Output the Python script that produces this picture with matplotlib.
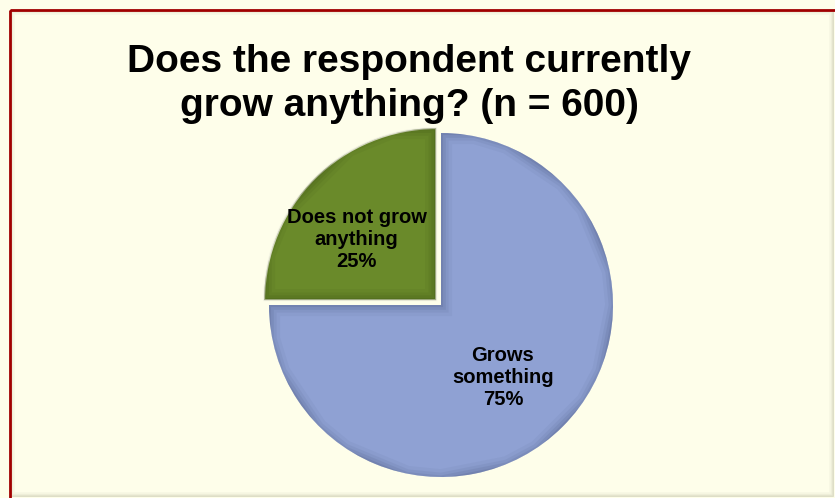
import matplotlib
matplotlib.use("Agg")
import matplotlib.pyplot as plt
from matplotlib.patches import Rectangle

labels = ["Grows\nsomething", "Does not grow\nanything"]
shares = [75, 25]
colors = ["#8FA1D3", "#6A8A2A"]
edge_dark = ["#4E5C85", "#3B4F12"]
title = "Does the respondent currently\ngrow anything? (n = 600)"

plt.rcParams['font.family'] = ['Liberation Sans', 'DejaVu Sans']

W, H = 835, 498
fig = plt.figure(figsize=(W / 100, H / 100), dpi=100)
fig.patch.set_facecolor("#FEFEEA")

# frame with a soft bevel inside the red border
bg = fig.add_axes([0, 0, 1, 1])
bg.set_xlim(0, W)
bg.set_ylim(H, 0)
bg.axis("off")
for i, c in enumerate(["#D8D8C0", "#E6E6CF", "#F0F0DB", "#F7F7E3"]):
    bg.add_patch(Rectangle((11 + i, 11 + i), W - 13 - 2 * i, H - 13 - 2 * i,
                           fill=False, ec=c, lw=1.2))
bg.add_patch(Rectangle((10, 10), W + 20, H + 20, fill=False, ec="#A00000", lw=2))

bg.text(409, 84, title, ha="center", va="center", fontsize=28,
        fontweight="bold", linespacing=1.3)

# pie, centred at (441, 305) px with radius ~172 px
R, cx, cy = 172, 441, 305
half = R * 1.1
ax = fig.add_axes([(cx - half) / W, (H - cy - half) / H, 2 * half / W, 2 * half / H])

wedges, _ = ax.pie(shares, colors=colors, startangle=90, counterclock=False,
                   explode=[0, 0.04], radius=1.0,
                   wedgeprops=dict(lw=0))
ax.set_xlim(-1.1, 1.1)
ax.set_ylim(-1.1, 1.1)
ax.set_aspect("equal")
ax.axis("off")

# light seam around the small slice, darker rim inside each slice
wedges[1].set_edgecolor("#F4F4E4")
wedges[1].set_linewidth(1.5)
for w, dk in zip(wedges, edge_dark):
    for lw, a in [(16, 0.07), (11, 0.1), (7, 0.14), (3, 0.2)]:
        rim = plt.Polygon(w.get_path().vertices, closed=True, fill=False,
                          ec=dk, lw=lw, alpha=a, transform=w.get_transform())
        ax.add_patch(rim)
        rim.set_clip_path(w)

ax.text(0.36, -0.42, f"{labels[0]}\n{shares[0]}%", ha="center", va="center",
        fontsize=14.5, fontweight="bold", linespacing=1.2)
ax.text(-0.49, 0.38, f"{labels[1]}\n{shares[1]}%", ha="center", va="center",
        fontsize=14.5, fontweight="bold", linespacing=1.2)

fig.savefig("out.png", dpi=100, facecolor=fig.get_facecolor())
